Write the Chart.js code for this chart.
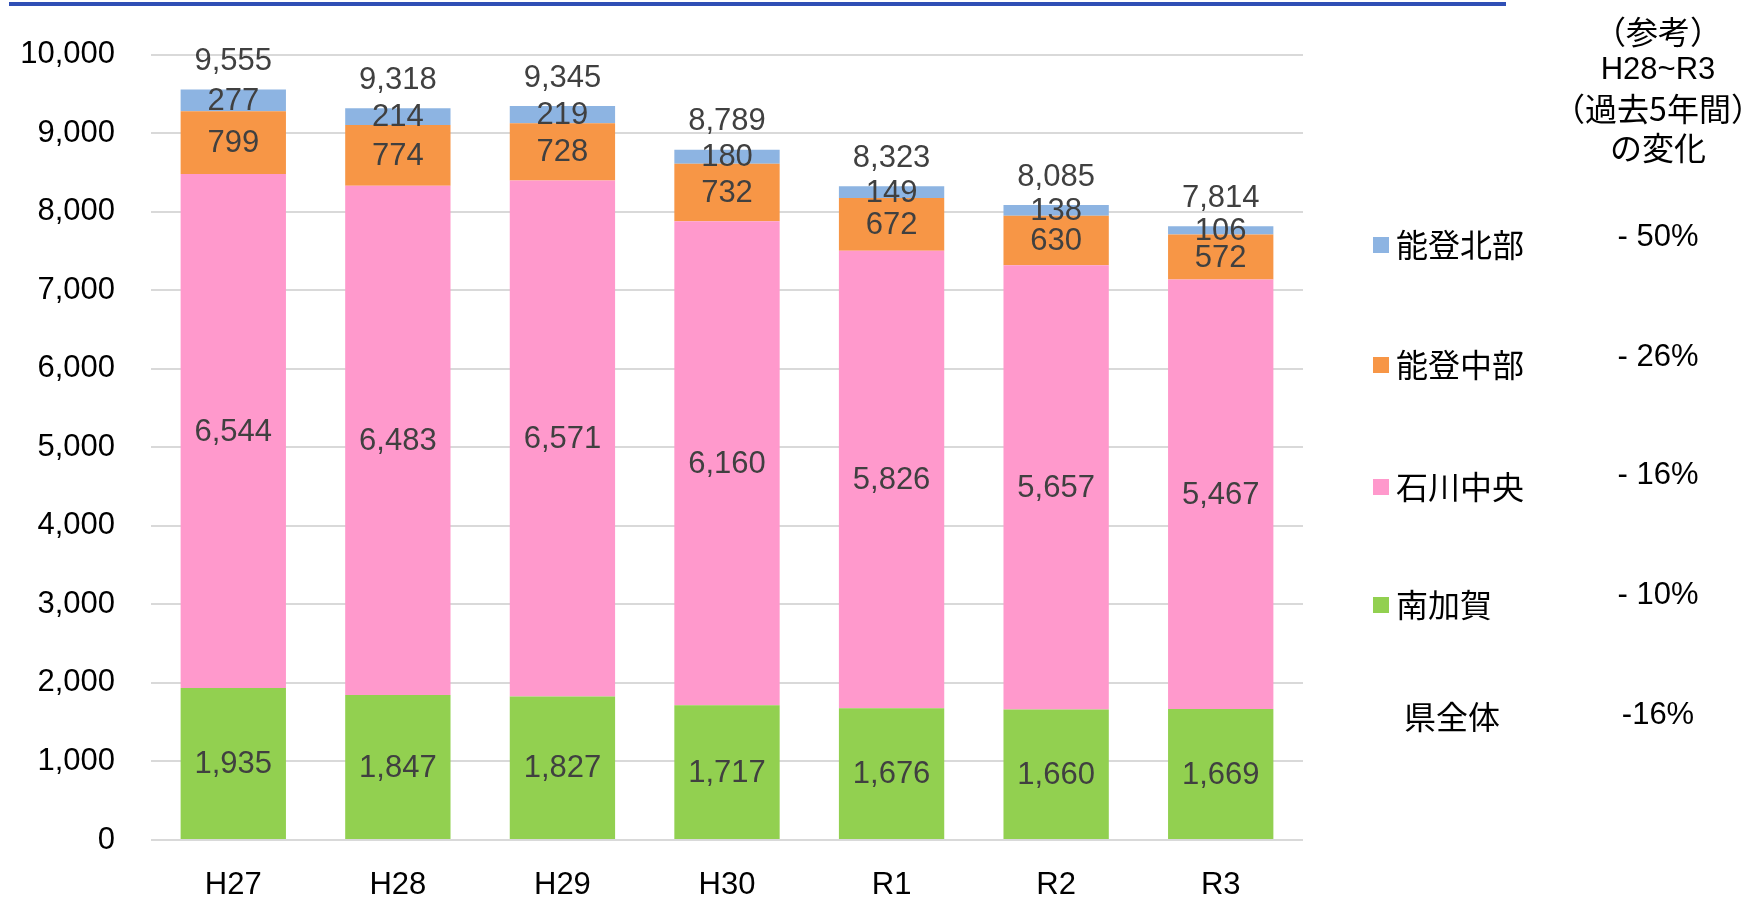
<!DOCTYPE html>
<html><head><meta charset="utf-8">
<script src="https://cdn.jsdelivr.net/npm/chart.js@4/dist/chart.umd.min.js"></script>
<style>html,body{margin:0;padding:0;background:#fff;overflow:hidden}</style>
</head><body>
<canvas id="c" width="1759" height="908"></canvas>
<script>
// ---- data ----
const categories = ['H27', 'H28', 'H29', 'H30', 'R1', 'R2', 'R3'];
const minamiKaga = [1935, 1847, 1827, 1717, 1676, 1660, 1669];     // 南加賀
const ishikawaChuo = [6544, 6483, 6571, 6160, 5826, 5657, 5467];   // 石川中央
const notoChubu = [799, 774, 728, 732, 672, 630, 572];             // 能登中部
const notoHokubu = [277, 214, 219, 180, 149, 138, 106];            // 能登北部
const seriesNames = ['南加賀', '石川中央', '能登中部', '能登北部'];
const seriesColors = ['#92D050', '#FF99CC', '#F79646', '#8DB4E2'];
const yMax = 10000, yStep = 1000;
// right-hand reference panel
const headerLines = ['（参考）', 'H28~R3', '（過去5年間）', 'の変化'];
const changeBySeries = ['- 10%', '- 16%', '- 26%', '- 50%'];  // same order as seriesNames
const totalName = '県全体';
const totalChange = '-16%';

const FONT = '"Liberation Sans", Arial, "Noto Sans CJK JP", sans-serif';
const CJK = '"Noto Sans CJK JP", "Liberation Sans", sans-serif';

const seriesData = [minamiKaga, ishikawaChuo, notoChubu, notoHokubu];
const fmt = v => v.toLocaleString('en-US');

const decor = {
  id: 'decor',
  beforeDraw(chart) {
    const c = chart.ctx;
    c.save();
    c.fillStyle = '#2F4FB5';
    c.fillRect(9, 2, 1497, 4);
    c.restore();
  },
  afterDatasetsDraw(chart) {
    const c = chart.ctx;
    c.save();
    c.textAlign = 'center';
    c.textBaseline = 'middle';
    c.font = '31px ' + FONT;
    c.fillStyle = '#404040';
    const n = chart.data.labels.length;
    const metas = chart.data.datasets.map((d, i) => chart.getDatasetMeta(i));
    for (let j = 0; j < n; j++) {
      let topY = Infinity, total = 0, x = 0;
      metas.forEach((m, i) => {
        const el = m.data[j];
        const v = chart.data.datasets[i].data[j];
        total += v;
        x = el.x;
        topY = Math.min(topY, el.y);
        c.fillText(fmt(v), el.x, (el.y + el.base) / 2 + 1);
      });
      c.fillText(fmt(total), x, topY - 28);
    }
    // legend + reference panel
    const cx = 1658;
    c.fillStyle = '#000';
    headerLines.forEach((t, i) => {
      c.font = (i === 1 ? '31px ' + FONT : '32px ' + CJK);
      c.fillText(t, cx, 32 + i * 38.5);
    });
    const rows = [];
    for (let i = chart.data.datasets.length - 1; i >= 0; i--) rows.push(i);
    const legendY = [245, 365, 487, 605];
    const changeY = [237, 357, 475, 595];
    rows.forEach((di, k) => {
      const ds = chart.data.datasets[di];
      c.fillStyle = ds.backgroundColor;
      c.fillRect(1373, legendY[k] - 8, 16, 16);
      c.fillStyle = '#000';
      c.textAlign = 'left';
      c.font = '32px ' + CJK;
      c.fillText(ds.label, 1396, legendY[k]);
      c.textAlign = 'center';
      c.font = '31px ' + FONT;
      c.fillText(changeBySeries[di], cx, changeY[k]);
    });
    c.textAlign = 'left';
    c.font = '32px ' + CJK;
    c.fillText(totalName, 1404, 717);
    c.textAlign = 'center';
    c.font = '31px ' + FONT;
    c.fillText(totalChange, cx, 715);
    c.restore();
  }
};

new Chart(document.getElementById('c'), {
  type: 'bar',
  data: {
    labels: categories,
    datasets: seriesData.map((d, i) => ({
      label: seriesNames[i],
      data: d,
      backgroundColor: seriesColors[i],
      borderWidth: 0,
      barPercentage: 0.64,
      categoryPercentage: 1.0
    }))
  },
  options: {
    responsive: false,
    animation: false,
    devicePixelRatio: 1,
    layout: { padding: { top: 52, right: 456, left: 0, bottom: 0 } },
    plugins: { legend: { display: false }, tooltip: { enabled: false } },
    scales: {
      x: {
        stacked: true,
        grid: { display: false, drawTicks: false },
        border: { display: false },
        ticks: { color: '#000', font: { size: 31, family: FONT }, padding: 27 },
        afterFit(s) { s.height = 68; }
      },
      y: {
        stacked: true,
        min: 0,
        max: yMax,
        grid: { color: '#D9D9D9', lineWidth: 2, drawTicks: false },
        border: { display: false },
        ticks: {
          stepSize: yStep,
          color: '#000',
          font: { size: 31, family: FONT },
          padding: 36,
          callback: v => fmt(v)
        },
        afterFit(s) { s.width = 151; }
      }
    }
  },
  plugins: [decor]
});
</script>
</body></html>
